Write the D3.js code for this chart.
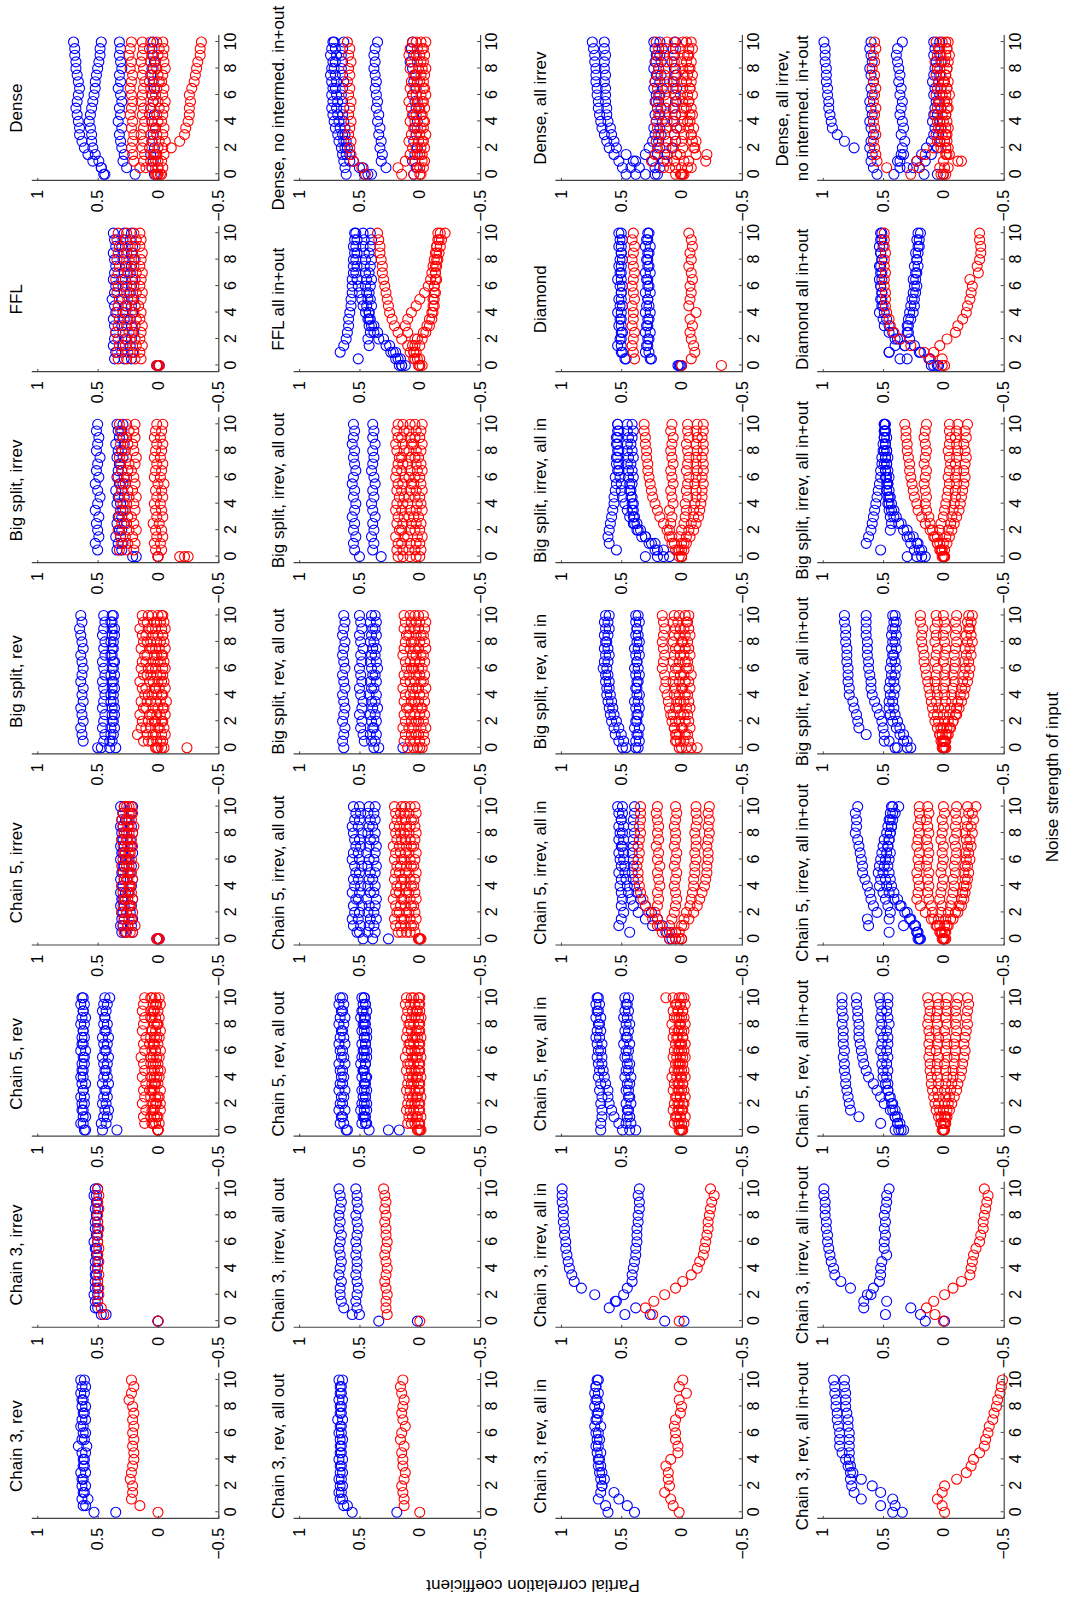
<!DOCTYPE html>
<html>
<head>
<meta charset="utf-8">
<script src="https://cdn.jsdelivr.net/npm/d3@7"></script>
<style>
  html, body { margin: 0; padding: 0; background: #fff; }
  svg { display: block; font-family: "Liberation Sans", Arial, Helvetica, sans-serif; }
</style>
</head>
<body>
<svg id="fig" width="1066" height="1603"></svg>
<script>
// Noise strength of the input (shared x values of every series)
const noise = [0,0.5,1,1.5,2,2.5,3,3.5,4,4.5,5,5.5,6,6.5,7,7.5,8,8.5,9,9.5,10];
const noiseTicks = [0,2,4,6,8,10];
const corrTicks = [-0.5,0,0.5,1];

// ---- Row 1: plain networks ----
const c3r_b1 = [.53,.60,.63,.62,.63,.62,.64,.62,.61,.63,.66,.63,.62,.64,.63,.62,.63,.62,.64,.63,.64];
const c3r_b2 = [.35,.62,.58,.61,.60,.63,.60,.61,.62,.60,.59,.61,.60,.62,.60,.61,.60,.63,.61,.60,.61];
const c3r_r1 = [.00,.15,.22,.21,.21,.23,.22,.21,.20,.20,.21,.20,.21,.20,.21,.20,.21,.24,.22,.20,.22];

const c3i_b1 = [.00,.43,.50,.52,.53,.50,.52,.51,.52,.50,.51,.52,.50,.51,.52,.50,.51,.52,.50,.53,.52];
const c3i_b2 = [.00,.47,.52,.50,.50,.52,.50,.52,.50,.52,.50,.51,.53,.50,.50,.52,.51,.50,.51,.51,.50];
const c3i_r1 = [.00,.45,.47,.50,.49,.49,.50,.49,.50,.49,.50,.49,.50,.50,.49,.50,.50,.49,.50,.49,.50];

const c5r_b1 = [.61,.64,.62,.63,.61,.64,.62,.63,.64,.62,.63,.61,.64,.62,.63,.62,.64,.63,.62,.64,.63];
const c5r_b2 = [.60,.62,.60,.62,.63,.61,.62,.60,.62,.63,.61,.62,.60,.63,.61,.62,.61,.60,.62,.61,.62];
const c5r_b3 = [.46,.47,.45,.44,.46,.45,.44,.46,.45,.44,.45,.46,.44,.45,.46,.44,.45,.44,.46,.45,.44];
const c5r_b4 = [.34,.43,.42,.41,.43,.42,.43,.41,.42,.43,.42,.41,.43,.42,.41,.43,.42,.44,.43,.42,.40];
const c5r_r1 = [.00,.11,.12,.10,.13,.11,.12,.10,.13,.11,.12,.14,.11,.12,.10,.13,.12,.11,.13,.12,.11];
const c5r_r2 = [.00,.04,.06,.05,.04,.06,.05,.03,.06,.05,.04,.06,.05,.04,.06,.05,.03,.05,.06,.04,.05];
const c5r_r3 = [.00,.02,.01,.03,.02,.00,.03,.02,.01,.03,.02,.01,.02,.03,.01,.02,.00,.02,.03,.01,.02];
const c5r_r4 = [.00,-.01,.00,-.02,.01,-.01,-.02,.00,-.01,-.02,.00,-.01,-.02,.00,-.01,-.02,.00,-.01,.00,-.02,-.01];
const c5r_r5 = [.00,.05,.03,.04,-.02,.02,.07,.05,.03,.00,.06,.04,.02,.07,.03,.05,.01,.06,.04,.02,.06];

const c5i_b1 = [.00,.27,.29,.28,.30,.28,.29,.27,.30,.28,.29,.28,.27,.29,.28,.30,.28,.29,.27,.29,.28];
const c5i_b2 = [-.01,.21,.22,.21,.23,.22,.21,.24,.22,.21,.23,.22,.24,.21,.22,.23,.21,.22,.24,.22,.21];
const c5i_b3 = [.01,.30,.31,.30,.29,.31,.30,.31,.29,.31,.30,.29,.31,.30,.31,.29,.30,.31,.30,.29,.31];
const c5i_r1 = [.00,.23,.25,.24,.26,.23,.25,.24,.23,.25,.24,.26,.25,.24,.23,.25,.26,.24,.25,.23,.24];
const c5i_r2 = [.00,.28,.29,.28,.30,.29,.28,.29,.30,.28,.29,.30,.29,.28,.29,.30,.28,.29,.30,.29,.28];
const c5i_r3 = [.01,.21,.19,.22,.21,.23,.21,.22,.23,.21,.22,.20,.22,.23,.21,.22,.21,.20,.22,.21,.22];
const c5i_r4 = [-.01,.26,.25,.22,.26,.24,.27,.25,.24,.26,.25,.24,.26,.27,.25,.26,.24,.25,.26,.24,.26];

const bsr_b1 = [.50,.62,.63,.64,.62,.63,.64,.62,.63,.62,.64,.63,.62,.63,.64,.62,.63,.64,.65,.63,.64];
const bsr_b2 = [.47,.45,.44,.46,.45,.44,.46,.45,.44,.45,.46,.44,.45,.46,.44,.45,.44,.46,.45,.44,.45];
const bsr_b3 = [.40,.38,.37,.39,.38,.36,.38,.37,.39,.38,.37,.36,.38,.37,.39,.38,.37,.38,.36,.38,.37];
const bsr_b4 = [.35,.40,.39,.36,.37,.38,.36,.39,.37,.36,.38,.39,.37,.36,.38,.37,.39,.36,.38,.39,.38];
const bsr_r1 = [.00,.12,.17,.14,.13,.15,.12,.14,.11,.13,.15,.12,.14,.13,.11,.14,.12,.13,.15,.12,.13];
const bsr_r2 = [.02,.08,.09,.10,.08,.07,.10,.09,.08,.10,.07,.09,.08,.10,.09,.07,.09,.10,.08,.09,.08];
const bsr_r3 = [-.03,.05,.04,.06,.03,.05,.04,.06,.05,.03,.04,.06,.05,.04,.03,.05,.06,.04,.05,.03,.05];
const bsr_r4 = [.01,.01,.02,.00,.02,.01,.00,.02,.01,.02,.00,.01,.02,.00,.01,.02,.01,.00,.02,.01,.00];
const bsr_r5 = [-.24,-.02,-.03,-.01,-.03,-.02,-.04,-.02,-.03,-.01,-.03,-.02,-.04,-.02,-.03,-.01,-.02,-.04,-.03,-.02,-.03];
const bsr_r6 = [-.05,-.04,-.06,-.05,-.04,-.06,-.05,-.07,-.04,-.06,-.05,-.04,-.06,-.05,-.04,-.06,-.05,-.04,-.06,-.05,-.04];

const bsi_b1 = [.21,.50,.52,.49,.50,.51,.49,.52,.50,.48,.50,.52,.49,.51,.50,.48,.51,.50,.49,.51,.50];
const bsi_b2 = [.00,.34,.33,.35,.32,.34,.33,.31,.34,.33,.35,.32,.34,.33,.32,.34,.33,.35,.32,.33,.34];
const bsi_b3 = [.18,.30,.29,.31,.30,.28,.30,.29,.31,.28,.30,.29,.28,.30,.31,.29,.30,.28,.29,.30,.29];
const bsi_r1 = [.00,.32,.30,.31,.33,.30,.32,.31,.29,.32,.30,.31,.33,.30,.31,.32,.30,.31,.29,.31,.32];
const bsi_r2 = [-.18,.26,.25,.27,.24,.26,.25,.27,.26,.24,.25,.27,.26,.25,.24,.26,.27,.25,.26,.24,.26];
const bsi_r3 = [-.22,.20,.19,.21,.18,.20,.22,.19,.20,.18,.21,.19,.20,.22,.19,.18,.20,.21,.19,.20,.19];
const bsi_r4 = [-.25,.02,.03,.01,.02,.04,.01,.02,.03,.01,.02,.00,.03,.02,.01,.03,.02,.01,.03,.02,.01];
const bsi_r5 = [.00,-.03,-.02,-.04,-.03,-.01,-.04,-.03,-.02,-.04,-.03,-.05,-.02,-.03,-.04,-.02,-.03,-.04,-.02,-.03,-.04];

const ffl_b1 = [.00,.36,.35,.37,.36,.35,.36,.37,.35,.36,.38,.36,.35,.37,.36,.35,.36,.37,.35,.36,.37];
const ffl_b2 = [.01,.28,.30,.29,.27,.29,.30,.28,.29,.27,.30,.28,.29,.30,.28,.27,.29,.28,.30,.29,.28];
const ffl_b3 = [-.01,.22,.21,.23,.22,.20,.22,.23,.21,.22,.20,.23,.22,.21,.23,.22,.20,.22,.21,.23,.22];
const ffl_r1 = [.00,.33,.34,.32,.33,.35,.33,.32,.34,.33,.32,.34,.33,.35,.33,.32,.34,.33,.32,.34,.33];
const ffl_r2 = [.00,.26,.25,.27,.26,.24,.26,.25,.27,.26,.25,.24,.26,.27,.25,.26,.24,.26,.25,.27,.26];
const ffl_r3 = [.01,.19,.20,.18,.19,.21,.19,.18,.20,.19,.21,.18,.20,.19,.18,.20,.19,.21,.19,.18,.20];
const ffl_r4 = [-.01,.14,.15,.13,.15,.14,.13,.15,.14,.16,.14,.13,.15,.14,.13,.15,.14,.13,.15,.14,.15];

const dn_b1 = [.45,.47,.54,.58,.61,.63,.65,.65,.66,.67,.68,.67,.66,.65,.66,.67,.68,.68,.69,.69,.70];
const dn_b2 = [.44,.47,.49,.52,.54,.55,.55,.56,.57,.56,.55,.54,.53,.52,.52,.51,.50,.49,.48,.48,.47];
const dn_b3 = [.19,.26,.29,.28,.30,.31,.32,.30,.33,.31,.32,.30,.31,.33,.31,.32,.30,.31,.32,.31,.32];
const dn_b4 = [.03,.05,.04,.06,.03,.05,.04,.02,.05,.03,.06,.04,.05,.03,.04,.06,.05,.03,.04,.05,.04];
const dn_r1 = [.02,.15,.20,.21,.22,.21,.20,.22,.21,.23,.22,.21,.22,.23,.22,.21,.23,.22,.24,.23,.22];
const dn_r2 = [.00,.10,.12,.11,.13,.12,.14,.12,.11,.13,.12,.14,.13,.12,.11,.13,.12,.14,.13,.12,.13];
const dn_r3 = [-.02,.05,.06,.04,.07,.05,.06,.04,.05,.07,.06,.04,.05,.06,.07,.05,.04,.06,.05,.07,.06];
const dn_r4 = [.01,.00,.02,.01,.00,-.01,.01,.02,.00,.01,-.01,.00,.02,.01,-.01,.00,.01,.02,.00,-.01,.01];
const dn_r5 = [-.03,-.04,-.03,-.05,-.04,-.06,-.04,-.05,-.03,-.04,-.05,-.06,-.04,-.05,-.03,-.04,-.06,-.05,-.04,-.05,-.04];
const dn_r6 = [.00,.00,.00,.02,-.11,-.18,-.22,-.23,-.25,-.26,-.26,-.27,-.26,-.28,-.30,-.31,-.32,-.33,-.35,-.35,-.36];

// ---- Row 2: all outputs (or all in+out) ----
const c3ro_b1 = [.56,.63,.66,.67,.66,.67,.66,.65,.67,.66,.65,.66,.67,.65,.68,.66,.65,.67,.66,.65,.67];
const c3ro_b2 = [.19,.60,.64,.65,.64,.65,.64,.66,.64,.65,.66,.64,.65,.66,.64,.65,.66,.64,.65,.66,.64];
const c3ro_r1 = [.00,.13,.13,.14,.15,.13,.12,.14,.14,.15,.13,.16,.15,.12,.14,.15,.14,.13,.15,.16,.14];

const c3io_b1 = [.34,.56,.63,.65,.66,.66,.65,.67,.66,.65,.66,.67,.66,.65,.67,.66,.67,.66,.65,.66,.67];
const c3io_b2 = [.02,.50,.52,.53,.52,.51,.52,.53,.52,.52,.53,.52,.53,.52,.51,.52,.53,.51,.52,.52,.53];
const c3io_r1 = [.00,.27,.28,.28,.27,.28,.29,.28,.27,.28,.29,.28,.27,.28,.28,.29,.28,.29,.28,.29,.30];

const c5ro_b1 = [.61,.66,.65,.67,.66,.65,.67,.66,.65,.66,.67,.65,.66,.67,.66,.65,.67,.66,.65,.67,.66];
const c5ro_b2 = [.60,.63,.64,.62,.64,.63,.62,.64,.63,.64,.62,.63,.64,.62,.63,.64,.63,.62,.64,.63,.64];
const c5ro_b3 = [.42,.48,.47,.49,.48,.47,.48,.46,.48,.47,.49,.48,.47,.48,.46,.48,.47,.49,.48,.47,.48];
const c5ro_b4 = [.26,.44,.45,.46,.44,.45,.46,.45,.44,.46,.45,.44,.46,.45,.44,.46,.45,.46,.44,.45,.46];
const c5ro_b5 = [.17,.45,.46,.44,.46,.45,.44,.46,.45,.47,.45,.46,.44,.45,.46,.44,.46,.45,.47,.45,.46];
const c5ro_r1 = [.00,.10,.09,.11,.10,.09,.11,.10,.09,.11,.10,.12,.10,.09,.11,.10,.09,.11,.10,.12,.11];
const c5ro_r2 = [.01,.07,.06,.08,.07,.06,.08,.07,.06,.07,.08,.06,.07,.08,.06,.07,.08,.07,.06,.08,.07];
const c5ro_r3 = [-.01,.04,.03,.05,.04,.03,.04,.05,.03,.04,.05,.03,.04,.05,.04,.03,.05,.04,.03,.04,.05];
const c5ro_r4 = [.00,.01,.02,.00,.01,.02,.00,.01,.02,.01,.00,.02,.01,.00,.02,.01,.00,.01,.02,.00,.01];
const c5ro_r5 = [.02,.00,-.01,.01,.00,-.01,.01,.00,-.01,.00,.01,-.01,.00,.01,-.01,.00,.01,-.01,.00,.01,.00];

const c5io_b1 = [.47,.52,.55,.56,.54,.55,.53,.56,.54,.55,.53,.54,.56,.55,.53,.54,.55,.56,.54,.53,.55];
const c5io_b2 = [.39,.50,.49,.51,.50,.48,.51,.50,.49,.51,.50,.48,.50,.51,.49,.50,.48,.51,.50,.49,.50];
const c5io_b3 = [.26,.43,.42,.41,.43,.42,.44,.41,.43,.42,.41,.43,.42,.44,.42,.41,.43,.42,.41,.43,.42];
const c5io_b4 = [.00,.37,.38,.36,.38,.37,.36,.38,.37,.39,.37,.36,.38,.37,.36,.38,.37,.39,.37,.38,.37];
const c5io_r1 = [.00,.18,.20,.21,.19,.20,.22,.20,.19,.21,.20,.19,.21,.20,.22,.19,.20,.21,.19,.20,.21];
const c5io_r2 = [.01,.15,.16,.15,.17,.16,.15,.17,.16,.15,.17,.16,.15,.16,.17,.15,.16,.17,.15,.16,.15];
const c5io_r3 = [.00,.11,.12,.13,.11,.12,.13,.11,.12,.13,.12,.11,.13,.12,.11,.12,.13,.11,.12,.13,.12];
const c5io_r4 = [-.01,.08,.07,.08,.09,.07,.08,.09,.07,.08,.09,.07,.08,.09,.07,.08,.09,.08,.07,.09,.08];
const c5io_r5 = [.01,.04,.05,.03,.04,.05,.03,.04,.05,.04,.03,.05,.04,.03,.05,.04,.03,.04,.05,.03,.04];

const bsro_b1 = [.63,.64,.63,.62,.64,.63,.62,.63,.64,.62,.63,.64,.62,.63,.64,.63,.62,.64,.63,.62,.63];
const bsro_b2 = [.14,.46,.47,.49,.48,.50,.48,.47,.49,.50,.48,.49,.50,.48,.49,.47,.49,.50,.48,.49,.50];
const bsro_b3 = [.38,.40,.41,.39,.40,.41,.39,.40,.42,.40,.41,.39,.40,.41,.40,.39,.41,.40,.39,.41,.40];
const bsro_b4 = [.34,.37,.36,.38,.36,.37,.35,.37,.36,.38,.36,.37,.35,.36,.37,.36,.38,.36,.37,.36,.37];
const bsro_r1 = [.10,.13,.12,.14,.12,.13,.11,.13,.12,.14,.12,.13,.11,.12,.14,.13,.12,.11,.13,.12,.13];
const bsro_r2 = [.05,.08,.07,.09,.07,.08,.09,.07,.08,.06,.08,.09,.07,.08,.06,.08,.07,.09,.08,.07,.08];
const bsro_r3 = [.02,.04,.03,.05,.03,.04,.02,.04,.05,.03,.04,.03,.05,.04,.03,.04,.05,.03,.04,.03,.04];
const bsro_r4 = [.00,.00,.01,-.01,.01,.00,-.01,.01,.00,.01,-.01,.00,.01,.00,-.01,.01,.00,-.01,.01,.00,.01];
const bsro_r5 = [-.02,-.04,-.03,-.05,-.03,-.04,-.02,-.04,-.03,-.05,-.03,-.04,-.02,-.04,-.03,-.05,-.04,-.03,-.04,-.05,-.03];

const bsio_b1 = [.50,.54,.55,.53,.55,.54,.56,.54,.53,.55,.54,.56,.55,.53,.54,.55,.54,.56,.55,.54,.55];
const bsio_b2 = [.32,.39,.38,.40,.38,.39,.37,.39,.40,.38,.39,.37,.38,.40,.39,.38,.39,.37,.39,.38,.39];
const bsio_r1 = [.18,.19,.18,.20,.17,.19,.18,.20,.19,.17,.19,.18,.20,.19,.18,.17,.19,.20,.18,.19,.18];
const bsio_r2 = [.14,.14,.15,.13,.15,.14,.13,.15,.14,.13,.15,.14,.13,.15,.14,.15,.13,.14,.15,.13,.14];
const bsio_r3 = [.08,.09,.08,.10,.08,.07,.09,.08,.10,.09,.08,.07,.09,.08,.10,.08,.09,.07,.08,.09,.08];
const bsio_r4 = [.03,.04,.03,.02,.04,.03,.05,.03,.02,.04,.03,.05,.04,.02,.03,.04,.03,.05,.04,.03,.04];
const bsio_r5 = [.00,-.01,.00,-.02,.00,-.01,.01,-.02,-.01,.00,-.02,-.01,.00,-.02,-.01,.01,-.01,-.02,.00,-.01,-.02];

const fflio_b1 = [.15,.51,.66,.63,.61,.60,.59,.59,.58,.57,.57,.56,.56,.56,.55,.55,.55,.54,.55,.54,.54];
const fflio_b2 = [.17,.20,.24,.42,.43,.41,.42,.43,.42,.44,.43,.44,.45,.44,.45,.46,.45,.46,.47,.46,.47];
const fflio_b3 = [.15,.18,.22,.28,.34,.38,.40,.41,.42,.40,.41,.42,.41,.40,.42,.41,.40,.42,.41,.40,.41];
const fflio_b4 = [.12,.16,.20,.25,.30,.35,.38,.42,.45,.47,.48,.50,.51,.52,.53,.52,.53,.52,.53,.52,.53];
const fflio_r1 = [.00,.05,.08,.10,.15,.18,.21,.23,.25,.26,.27,.28,.29,.30,.31,.31,.32,.33,.33,.34,.35];
const fflio_r2 = [-.02,.00,.05,.04,.02,-.03,-.06,-.08,-.10,-.11,-.11,-.12,-.12,-.13,-.13,-.13,-.14,-.14,-.14,-.15,-.15];
const fflio_r3 = [.00,.02,.05,.06,.04,.10,.12,.10,.07,.03,.00,-.04,-.07,-.09,-.10,-.11,-.12,-.13,-.14,-.16,-.17];
const fflio_r4 = [.01,.04,.03,.00,-.02,-.05,-.08,-.10,-.11,-.12,-.12,-.13,-.12,-.14,-.13,-.14,-.15,-.16,-.17,-.18,-.21];

const dnio_b1 = [.61,.62,.63,.64,.65,.67,.68,.70,.71,.72,.73,.72,.73,.72,.73,.74,.73,.72,.74,.73,.72];
const dnio_b2 = [.46,.50,.58,.61,.62,.63,.64,.66,.67,.68,.69,.68,.69,.70,.69,.70,.71,.70,.69,.70,.71];
const dnio_b3 = [.43,.47,.55,.58,.60,.61,.62,.62,.63,.64,.63,.64,.65,.64,.63,.64,.65,.64,.65,.64,.63];
const dnio_b4 = [.40,.28,.32,.31,.33,.32,.34,.33,.35,.34,.36,.35,.36,.37,.36,.37,.38,.37,.38,.37,.35];
const dnio_b5 = [.05,.03,.06,.04,.02,.05,.03,.04,.02,.05,.03,.04,.06,.03,.05,.04,.06,.08,.05,.07,.06];
const dnio_r1 = [.45,.48,.55,.57,.58,.57,.59,.58,.57,.59,.58,.57,.59,.58,.60,.58,.59,.57,.59,.58,.60];
const dnio_r2 = [.15,.18,.12,.08,.06,.09,.07,.05,.08,.06,.07,.09,.06,.08,.07,.05,.08,.07,.09,.08,.06];
const dnio_r3 = [.05,.02,.04,.02,.03,.01,.03,.02,.04,.03,.01,.02,.03,.04,.02,.03,.01,.02,.03,.02,.03];
const dnio_r4 = [-.01,.00,-.02,.00,-.01,-.02,.00,-.01,-.03,-.01,.00,-.02,-.01,-.03,.00,-.01,-.02,-.01,.00,-.02,-.01];
const dnio_r5 = [.00,-.03,-.04,-.02,-.04,-.03,-.05,-.03,-.04,-.02,-.04,-.03,-.05,-.04,-.03,-.04,-.05,-.03,-.04,-.03,-.05];

// ---- Row 3: all inputs ----
const c3ra_b1 = [.61,.63,.69,.67,.66,.67,.68,.69,.69,.70,.71,.70,.71,.72,.71,.70,.72,.71,.72,.71,.70];
const c3ra_b2 = [.39,.45,.52,.56,.66,.64,.66,.67,.68,.67,.69,.68,.69,.67,.70,.69,.68,.70,.69,.71,.69];
const c3ra_r1 = [.02,.07,.09,.14,.10,.11,.11,.13,.09,.03,.03,.05,.05,.06,.05,.01,.00,.02,-.04,.02,-.01];

const c3ia_b1 = [.14,.47,.60,.55,.72,.83,.89,.91,.93,.94,.95,.96,.96,.97,.97,.98,.98,.98,.99,.99,.99];
const c3ia_b2 = [-.02,.26,.38,.54,.48,.45,.41,.41,.40,.39,.38,.38,.37,.37,.37,.36,.36,.35,.35,.36,.35];
const c3ia_r1 = [.02,.24,.30,.23,.14,.05,-.01,-.08,-.13,-.15,-.18,-.19,-.20,-.21,-.22,-.22,-.23,-.24,-.25,-.27,-.24];

const c5ra_b1 = [.67,.67,.66,.66,.67,.66,.68,.67,.69,.68,.69,.70,.69,.70,.71,.70,.69,.71,.70,.71,.70];
const c5ra_b2 = [.49,.52,.56,.58,.60,.61,.61,.63,.64,.65,.66,.66,.67,.66,.68,.67,.68,.67,.69,.68,.69];
const c5ra_b3 = [.43,.46,.45,.45,.46,.44,.46,.45,.47,.46,.45,.47,.46,.48,.46,.47,.46,.48,.47,.46,.47];
const c5ra_b4 = [.38,.42,.43,.44,.42,.43,.44,.43,.42,.44,.43,.45,.44,.43,.45,.44,.43,.45,.44,.45,.44];
const c5ra_r1 = [.02,.06,.05,.07,.06,.05,.07,.06,.08,.06,.05,.07,.06,.05,.07,.06,.08,.06,.07,.05,.07];
const c5ra_r2 = [.00,.03,.04,.02,.03,.04,.02,.03,.04,.03,.02,.04,.03,.02,.04,.03,.02,.04,.03,.04,.02];
const c5ra_r3 = [.01,.00,.01,.00,-.01,.01,.00,-.01,.01,.00,.01,-.01,.00,.01,-.01,.00,.01,.00,-.01,.01,.00];
const c5ra_r4 = [-.01,-.02,-.03,-.01,-.02,-.03,-.02,-.01,-.03,-.02,-.01,-.03,-.02,-.03,-.01,-.02,-.03,-.02,-.01,-.03,-.02];
const c5ra_r5 = [.00,.02,.01,.03,.02,.01,.03,.02,.00,.02,.03,.01,.02,.00,.03,.02,.01,.02,.03,.01,.13];

const c5ia_b1 = [.10,.43,.52,.50,.48,.50,.49,.50,.51,.50,.52,.50,.51,.52,.50,.52,.51,.52,.50,.52,.53];
const c5ia_b2 = [.08,.13,.24,.30,.36,.40,.42,.44,.45,.46,.47,.47,.48,.48,.49,.48,.49,.48,.50,.49,.49];
const c5ia_b3 = [.05,.10,.16,.20,.25,.30,.34,.37,.39,.40,.41,.40,.40,.41,.40,.40,.39,.40,.40,.39,.39];
const c5ia_r1 = [.10,.16,.20,.24,.27,.30,.32,.34,.35,.36,.36,.37,.36,.35,.36,.35,.34,.35,.34,.34,.34];
const c5ia_r2 = [.05,.12,.18,.20,.22,.20,.19,.20,.18,.19,.20,.18,.20,.19,.21,.19,.20,.19,.20,.21,.20];
const c5ia_r3 = [.02,.08,.10,.08,.06,.05,.04,.05,.06,.05,.04,.06,.05,.04,.06,.05,.05,.06,.05,.04,.05];
const c5ia_r4 = [.00,.05,.00,-.02,-.04,-.07,-.08,-.09,-.10,-.10,-.11,-.11,-.12,-.11,-.12,-.12,-.11,-.12,-.13,-.12,-.12];
const c5ia_r5 = [.00,.02,-.02,-.06,-.10,-.13,-.15,-.17,-.19,-.20,-.21,-.21,-.22,-.22,-.21,-.22,-.23,-.22,-.23,-.22,-.23];

const bsra_b1 = [.49,.52,.55,.56,.58,.59,.60,.61,.62,.62,.63,.63,.65,.64,.63,.64,.63,.64,.63,.64,.63];
const bsra_b2 = [.46,.48,.50,.52,.54,.56,.57,.58,.59,.60,.60,.61,.62,.61,.60,.61,.62,.61,.60,.61,.60];
const bsra_b3 = [.38,.38,.37,.39,.38,.37,.38,.39,.37,.38,.37,.38,.39,.37,.38,.39,.37,.38,.37,.38,.38];
const bsra_b4 = [.36,.35,.36,.35,.37,.36,.35,.36,.35,.37,.36,.35,.36,.37,.35,.36,.35,.36,.37,.35,.36];
const bsra_r1 = [.02,.04,.05,.06,.08,.09,.10,.11,.12,.14,.13,.14,.16,.15,.14,.15,.16,.15,.14,.15,.16];
const bsra_r2 = [-.13,.05,.04,.06,.05,.07,.05,.04,.06,.05,.07,.06,.05,.07,.06,.05,.07,.06,.05,.07,.06];
const bsra_r3 = [-.08,.01,.02,.00,.02,.01,.03,.01,.02,.00,.02,.01,.03,.02,.01,.02,.00,.02,.01,.03,.02];
const bsra_r4 = [.00,-.02,-.03,-.01,-.03,-.02,-.04,-.02,-.03,-.01,-.03,-.02,-.04,-.03,-.02,-.03,-.01,-.03,-.02,-.04,-.03];
const bsra_r5 = [-.04,-.06,-.05,-.07,-.06,-.05,-.07,-.06,-.05,-.07,-.06,-.08,-.06,-.05,-.07,-.06,-.05,-.07,-.06,-.05,-.06];

const bsia_b1 = [.30,.54,.60,.61,.60,.59,.58,.57,.56,.56,.55,.54,.55,.53,.54,.54,.53,.54,.53,.52,.53];
const bsia_b2 = [.20,.22,.25,.30,.36,.40,.43,.45,.47,.49,.50,.50,.51,.52,.52,.53,.52,.53,.54,.53,.53];
const bsia_b3 = [.15,.20,.27,.33,.37,.39,.40,.41,.40,.41,.42,.41,.40,.41,.42,.40,.41,.42,.41,.40,.41];
const bsia_b4 = [.10,.15,.22,.30,.34,.37,.39,.40,.41,.42,.43,.43,.44,.44,.45,.44,.45,.45,.44,.45,.45];
const bsia_r1 = [.02,.05,.08,.10,.12,.15,.18,.20,.22,.24,.25,.26,.27,.28,.28,.29,.29,.30,.30,.31,.31];
const bsia_r2 = [.00,.03,.06,.08,.10,.09,.08,.10,.07,.08,.09,.07,.08,.09,.07,.08,.09,.08,.07,.09,.08];
const bsia_r3 = [.00,.02,.00,.02,.00,-.02,-.03,-.04,-.03,-.05,-.04,-.05,-.06,-.04,-.05,-.06,-.05,-.04,-.06,-.05,-.05];
const bsia_r4 = [.00,.00,-.02,-.04,-.06,-.08,-.10,-.10,-.11,-.12,-.12,-.11,-.12,-.13,-.12,-.12,-.13,-.12,-.13,-.12,-.13];
const bsia_r5 = [.00,-.02,-.04,-.07,-.10,-.12,-.14,-.15,-.16,-.17,-.17,-.18,-.17,-.18,-.18,-.17,-.18,-.18,-.17,-.18,-.18];

const dia_b1 = [.03,.46,.50,.53,.51,.50,.52,.50,.53,.51,.52,.50,.51,.53,.50,.52,.51,.50,.52,.51,.52];
const dia_b2 = [.02,.47,.49,.50,.50,.49,.50,.51,.50,.49,.50,.50,.49,.50,.51,.50,.49,.50,.50,.49,.50];
const dia_b3 = [.01,.25,.30,.29,.28,.30,.29,.28,.30,.29,.28,.30,.28,.29,.30,.28,.29,.28,.30,.29,.28];
const dia_b4 = [.00,.26,.27,.28,.27,.26,.28,.27,.26,.27,.28,.26,.27,.28,.26,.27,.28,.27,.26,.28,.27];
const dia_r1 = [.00,.39,.40,.41,.40,.39,.41,.40,.40,.41,.39,.40,.41,.40,.39,.40,.41,.40,.39,.41,.40];
const dia_r2 = [-.33,-.08,-.11,-.10,-.08,-.07,-.09,-.07,-.12,-.06,-.07,-.08,-.07,-.09,-.08,-.06,-.08,-.07,-.09,-.08,-.06];

const dai_b1 = [.46,.49,.52,.56,.60,.62,.64,.66,.67,.68,.69,.69,.70,.70,.71,.71,.71,.72,.72,.73,.74];
const dai_b2 = [.38,.42,.40,.46,.54,.56,.58,.59,.61,.62,.62,.63,.63,.63,.64,.63,.64,.64,.63,.64,.64];
const dai_b3 = [.30,.35,.38,.30,.27,.24,.22,.23,.21,.22,.20,.22,.21,.23,.22,.21,.23,.22,.21,.22,.23];
const dai_b4 = [.20,.22,.24,.20,.18,.19,.17,.18,.16,.18,.17,.19,.18,.16,.18,.17,.19,.17,.18,.16,.18];
const dai_b5 = [.22,.18,.15,.12,.08,.05,.06,.04,.06,.05,.07,.05,.06,.04,.07,.05,.06,.08,.06,.07,.05];
const dai_r1 = [.05,.15,.25,.22,.20,.21,.19,.20,.21,.19,.20,.21,.19,.20,.22,.20,.19,.21,.20,.19,.21];
const dai_r2 = [.00,.10,.12,.14,.13,.12,.14,.13,.12,.14,.13,.12,.14,.13,.12,.14,.13,.12,.14,.13,.12];
const dai_r3 = [-.01,.05,.06,.04,.07,.05,.06,.04,.07,.05,.06,.04,.05,.07,.06,.04,.05,.06,.07,.05,.06];
const dai_r4 = [.00,.00,-.02,.01,-.01,.00,-.02,.01,-.01,.00,-.02,-.01,.01,-.01,.00,-.02,-.01,.00,-.02,.01,-.01];
const dai_r5 = [-.02,-.08,-.20,-.21,-.11,-.09,-.08,-.10,-.07,-.09,-.08,-.06,-.09,-.07,-.08,-.09,-.07,-.08,-.06,-.09,-.08];
const dai_r6 = [.01,-.05,-.06,-.12,-.10,-.12,-.08,-.06,-.05,-.07,-.04,-.06,-.05,-.07,-.04,-.05,-.06,-.04,-.05,-.06,-.04];

// ---- Row 4: all inputs and outputs ----
const c3rio_b1 = [.42,.52,.68,.74,.76,.77,.77,.79,.81,.84,.86,.86,.86,.87,.88,.88,.89,.89,.90,.90,.91];
const c3rio_b2 = [.34,.40,.42,.52,.59,.68,.75,.77,.78,.78,.78,.78,.78,.79,.79,.80,.81,.81,.81,.82,.82];
const c3rio_r1 = [-.01,.01,.05,.01,-.01,-.11,-.19,-.23,-.25,-.30,-.34,-.35,-.37,-.38,-.41,-.42,-.44,-.45,-.47,-.48,-.49];

const c3iio_b1 = [.15,.19,.66,.66,.63,.77,.85,.90,.91,.93,.94,.95,.96,.96,.97,.97,.98,.98,.98,.99,.99];
const c3iio_b2 = [-.01,.48,.27,.47,.60,.58,.53,.52,.52,.51,.47,.49,.49,.48,.49,.48,.49,.48,.47,.47,.45];
const c3iio_r1 = [.00,.07,.14,.08,-.01,-.08,-.15,-.22,-.23,-.24,-.25,-.27,-.30,-.31,-.33,-.33,-.34,-.35,-.36,-.37,-.34];

const c5rio_b1 = [.40,.52,.70,.77,.78,.79,.80,.81,.81,.82,.82,.83,.82,.83,.83,.83,.84,.83,.84,.84,.84];
const c5rio_b2 = [.35,.38,.40,.44,.49,.52,.55,.58,.62,.64,.66,.67,.68,.69,.70,.70,.70,.71,.71,.72,.72];
const c5rio_b3 = [.33,.36,.38,.40,.42,.44,.46,.48,.50,.50,.51,.50,.52,.51,.50,.52,.51,.52,.51,.52,.53];
const c5rio_b4 = [.37,.38,.40,.42,.43,.45,.46,.46,.47,.46,.47,.46,.47,.46,.46,.47,.45,.46,.47,.46,.46];
const c5rio_r1 = [.00,.02,.04,.06,.07,.08,.09,.10,.10,.11,.11,.12,.11,.12,.11,.12,.13,.12,.11,.12,.13];
const c5rio_r2 = [.01,.02,.02,.03,.04,.04,.05,.04,.05,.06,.05,.04,.06,.05,.04,.06,.05,.06,.05,.04,.05];
const c5rio_r3 = [-.01,.00,-.01,.00,-.01,-.02,-.01,-.02,-.03,-.02,-.01,-.03,-.02,-.03,-.02,-.01,-.03,-.02,-.03,-.02,-.03];
const c5rio_r4 = [.00,-.01,-.02,-.03,-.04,-.05,-.06,-.07,-.08,-.08,-.09,-.09,-.10,-.09,-.10,-.11,-.10,-.11,-.10,-.11,-.12];
const c5rio_r5 = [.00,-.02,-.03,-.05,-.07,-.09,-.11,-.12,-.14,-.15,-.16,-.17,-.18,-.17,-.18,-.19,-.20,-.19,-.20,-.21,-.20];

const c5iio_b1 = [.20,.45,.62,.63,.55,.58,.60,.61,.63,.65,.67,.67,.68,.69,.70,.71,.73,.72,.72,.73,.71];
const c5iio_b2 = [.21,.22,.33,.45,.44,.46,.48,.50,.53,.52,.54,.53,.52,.51,.50,.49,.47,.46,.45,.44,.42];
const c5iio_b3 = [.20,.22,.23,.27,.30,.36,.41,.45,.47,.48,.50,.49,.48,.47,.46,.45,.44,.43,.42,.40,.37];
const c5iio_b4 = [.19,.21,.24,.28,.32,.35,.38,.41,.43,.44,.45,.46,.45,.44,.46,.45,.44,.43,.44,.42,.43];
const c5iio_r1 = [.00,.02,.05,.10,.15,.19,.22,.21,.20,.21,.22,.20,.21,.20,.22,.21,.20,.21,.19,.20,.20];
const c5iio_r2 = [.01,.03,.06,.08,.09,.10,.12,.13,.12,.13,.12,.14,.13,.12,.13,.14,.12,.13,.14,.12,.13];
const c5iio_r3 = [-.01,.02,.03,.04,.02,.01,.03,.02,.01,.00,.02,.01,.00,.01,.00,.02,.01,.00,.01,-.01,.00];
const c5iio_r4 = [.00,.01,-.01,-.02,-.04,-.06,-.07,-.08,-.09,-.08,-.10,-.09,-.10,-.11,-.10,-.09,-.11,-.10,-.11,-.10,-.11];
const c5iio_r5 = [-.02,-.01,-.03,-.06,-.10,-.13,-.15,-.16,-.17,-.18,-.17,-.18,-.19,-.18,-.20,-.19,-.18,-.20,-.19,-.21,-.20];
const c5iio_r6 = [.00,-.02,-.04,-.08,-.12,-.15,-.17,-.18,-.19,-.20,-.21,-.20,-.22,-.21,-.23,-.22,-.24,-.23,-.25,-.24,-.27];

const bsrio_b1 = [.40,.45,.64,.70,.71,.72,.74,.75,.78,.78,.79,.79,.79,.80,.80,.80,.81,.81,.81,.82,.82];
const bsrio_b2 = [.38,.49,.49,.50,.51,.53,.55,.57,.59,.60,.60,.61,.62,.62,.63,.63,.63,.64,.64,.64,.64];
const bsrio_b3 = [.30,.33,.36,.39,.42,.44,.45,.45,.44,.45,.44,.43,.44,.43,.42,.43,.42,.43,.42,.41,.42];
const bsrio_b4 = [.27,.30,.33,.36,.38,.40,.41,.42,.41,.40,.41,.40,.39,.40,.41,.39,.40,.39,.40,.39,.40];
const bsrio_r1 = [.00,.01,.03,.05,.07,.08,.09,.10,.11,.12,.13,.14,.15,.16,.16,.17,.18,.18,.17,.19,.19];
const bsrio_r2 = [.01,.02,.03,.02,.04,.05,.04,.06,.05,.06,.07,.06,.05,.07,.06,.05,.07,.06,.07,.05,.06];
const bsrio_r3 = [-.01,.00,.01,.00,-.01,.00,-.01,-.02,-.01,.00,-.02,-.01,-.02,.00,-.01,-.02,-.01,.00,-.02,-.01,.00];
const bsrio_r4 = [.00,-.01,-.02,-.03,-.04,-.05,-.06,-.07,-.07,-.08,-.09,-.08,-.09,-.10,-.09,-.10,-.11,-.10,-.11,-.10,-.11];
const bsrio_r5 = [-.02,-.02,-.04,-.06,-.08,-.10,-.11,-.12,-.14,-.15,-.16,-.17,-.18,-.17,-.19,-.18,-.20,-.19,-.21,-.20,-.21];
const bsrio_r6 = [.00,-.01,-.03,-.05,-.08,-.11,-.13,-.15,-.17,-.18,-.20,-.21,-.22,-.21,-.23,-.22,-.24,-.23,-.22,-.23,-.24];

const bsiio_b1 = [.30,.52,.64,.62,.60,.59,.58,.57,.56,.55,.54,.53,.52,.52,.51,.51,.50,.50,.49,.49,.49];
const bsiio_b2 = [.22,.24,.27,.30,.33,.37,.41,.43,.45,.46,.47,.47,.48,.48,.49,.48,.49,.48,.49,.49,.49];
const bsiio_b3 = [.18,.20,.22,.28,.44,.43,.44,.45,.46,.45,.47,.46,.47,.48,.47,.48,.47,.48,.49,.48,.49];
const bsiio_b4 = [.15,.18,.21,.25,.30,.35,.39,.41,.43,.44,.45,.46,.45,.46,.47,.46,.47,.48,.47,.48,.48];
const bsiio_r1 = [.00,.02,.05,.08,.11,.15,.18,.21,.22,.24,.25,.26,.27,.28,.28,.29,.30,.30,.31,.31,.32];
const bsiio_r2 = [.01,.03,.05,.07,.09,.11,.12,.14,.15,.14,.15,.16,.15,.14,.16,.15,.14,.15,.16,.15,.14];
const bsiio_r3 = [-.01,.02,.03,.05,.03,.02,.00,-.01,-.02,-.03,-.04,-.05,-.04,-.05,-.06,-.05,-.04,-.05,-.06,-.05,-.05];
const bsiio_r4 = [.00,.01,.00,-.02,-.04,-.06,-.07,-.08,-.09,-.10,-.10,-.11,-.10,-.11,-.10,-.11,-.12,-.11,-.10,-.11,-.12];
const bsiio_r5 = [-.01,-.01,-.03,-.05,-.07,-.09,-.11,-.13,-.14,-.15,-.16,-.17,-.18,-.17,-.18,-.19,-.18,-.17,-.19,-.18,-.20];

const dio_b1 = [.05,.36,.45,.40,.40,.45,.49,.50,.53,.51,.52,.51,.52,.53,.51,.52,.51,.52,.50,.51,.51];
const dio_b2 = [.10,.30,.45,.32,.36,.29,.29,.27,.25,.24,.24,.23,.22,.23,.22,.21,.22,.21,.20,.20,.19];
const dio_b3 = [.08,.11,.19,.32,.38,.42,.45,.47,.49,.50,.51,.51,.52,.51,.52,.53,.51,.52,.53,.52,.52];
const dio_b4 = [.04,.12,.20,.24,.28,.30,.30,.29,.28,.27,.26,.25,.24,.25,.23,.24,.22,.23,.21,.22,.21];
const dio_r1 = [.01,.11,.16,.27,.36,.41,.44,.45,.47,.48,.48,.48,.49,.49,.48,.49,.49,.48,.49,.49,.49];
const dio_r2 = [-.01,.01,.08,.03,-.03,-.10,-.12,-.16,-.19,-.20,-.22,-.23,-.24,-.22,-.29,-.28,-.30,-.31,-.31,-.30,-.30];

const daio_b1 = [.41,.36,.38,.35,.74,.82,.88,.92,.93,.94,.95,.95,.96,.96,.97,.97,.97,.98,.98,.98,.99];
const daio_b2 = [.55,.58,.60,.59,.61,.60,.58,.60,.61,.59,.60,.61,.59,.60,.58,.60,.61,.59,.60,.61,.60];
const daio_b3 = [.16,.30,.36,.33,.34,.32,.35,.33,.34,.36,.35,.34,.36,.35,.37,.36,.37,.38,.39,.38,.34];
const daio_b4 = [.05,.20,.22,.18,.14,.10,.08,.07,.09,.08,.07,.06,.08,.07,.09,.08,.07,.06,.08,.07,.08];
const daio_b5 = [.00,.25,.15,.10,.05,.03,.04,.02,.03,.05,.02,.04,.03,.02,.04,.03,.05,.02,.03,.04,.03];
const daio_r1 = [.27,.47,.55,.56,.57,.58,.56,.57,.58,.57,.56,.58,.57,.56,.58,.57,.59,.57,.58,.56,.57];
const daio_r2 = [.00,.20,.22,.15,.08,.05,.06,.04,.05,.07,.05,.04,.06,.05,.04,.06,.05,.07,.05,.04,.06];
const daio_r3 = [.02,.03,-.15,-.05,.02,.03,.01,.02,.03,.01,.02,.03,.01,.02,.00,.02,.03,.01,.02,.03,.01];
const daio_r4 = [-.02,-.04,-.12,-.03,-.02,-.01,-.03,-.02,.00,-.02,-.03,-.01,-.02,-.03,-.01,-.02,-.03,-.01,-.02,-.03,-.02];
const daio_r5 = [.00,-.01,.00,-.02,-.04,-.03,-.02,-.04,-.03,-.02,-.04,-.03,-.05,-.03,-.04,-.02,-.03,-.04,-.05,-.03,-.04];

// Panel titles and the series each panel shows (grid of 4 rows x 8 columns)
const panelRows = [
  [
    { title: ["Chain 3, rev"], blue: [c3r_b1, c3r_b2], red: [c3r_r1] },
    { title: ["Chain 3, irrev"], blue: [c3i_b1, c3i_b2], red: [c3i_r1] },
    { title: ["Chain 5, rev"], blue: [c5r_b1, c5r_b2, c5r_b3, c5r_b4], red: [c5r_r1, c5r_r2, c5r_r3, c5r_r4, c5r_r5] },
    { title: ["Chain 5, irrev"], blue: [c5i_b1, c5i_b2, c5i_b3], red: [c5i_r1, c5i_r2, c5i_r3, c5i_r4] },
    { title: ["Big split, rev"], blue: [bsr_b1, bsr_b2, bsr_b3, bsr_b4], red: [bsr_r1, bsr_r2, bsr_r3, bsr_r4, bsr_r5, bsr_r6] },
    { title: ["Big split, irrev"], blue: [bsi_b1, bsi_b2, bsi_b3], red: [bsi_r1, bsi_r2, bsi_r3, bsi_r4, bsi_r5] },
    { title: ["FFL"], blue: [ffl_b1, ffl_b2, ffl_b3], red: [ffl_r1, ffl_r2, ffl_r3, ffl_r4] },
    { title: ["Dense"], blue: [dn_b1, dn_b2, dn_b3, dn_b4], red: [dn_r1, dn_r2, dn_r3, dn_r4, dn_r5, dn_r6] }
  ],
  [
    { title: ["Chain 3, rev, all out"], blue: [c3ro_b1, c3ro_b2], red: [c3ro_r1] },
    { title: ["Chain 3, irrev, all out"], blue: [c3io_b1, c3io_b2], red: [c3io_r1] },
    { title: ["Chain 5, rev, all out"], blue: [c5ro_b1, c5ro_b2, c5ro_b3, c5ro_b4, c5ro_b5], red: [c5ro_r1, c5ro_r2, c5ro_r3, c5ro_r4, c5ro_r5] },
    { title: ["Chain 5, irrev, all out"], blue: [c5io_b1, c5io_b2, c5io_b3, c5io_b4], red: [c5io_r1, c5io_r2, c5io_r3, c5io_r4, c5io_r5] },
    { title: ["Big split, rev, all out"], blue: [bsro_b1, bsro_b2, bsro_b3, bsro_b4], red: [bsro_r1, bsro_r2, bsro_r3, bsro_r4, bsro_r5] },
    { title: ["Big split, irrev, all out"], blue: [bsio_b1, bsio_b2], red: [bsio_r1, bsio_r2, bsio_r3, bsio_r4, bsio_r5] },
    { title: ["FFL all in+out"], blue: [fflio_b1, fflio_b2, fflio_b3, fflio_b4], red: [fflio_r1, fflio_r2, fflio_r3, fflio_r4] },
    { title: ["Dense, no intermed. in+out"], blue: [dnio_b1, dnio_b2, dnio_b3, dnio_b4, dnio_b5], red: [dnio_r1, dnio_r2, dnio_r3, dnio_r4, dnio_r5] }
  ],
  [
    { title: ["Chain 3, rev, all in"], blue: [c3ra_b1, c3ra_b2], red: [c3ra_r1] },
    { title: ["Chain 3, irrev, all in"], blue: [c3ia_b1, c3ia_b2], red: [c3ia_r1] },
    { title: ["Chain 5, rev, all in"], blue: [c5ra_b1, c5ra_b2, c5ra_b3, c5ra_b4], red: [c5ra_r1, c5ra_r2, c5ra_r3, c5ra_r4, c5ra_r5] },
    { title: ["Chain 5, irrev, all in"], blue: [c5ia_b1, c5ia_b2, c5ia_b3], red: [c5ia_r1, c5ia_r2, c5ia_r3, c5ia_r4, c5ia_r5] },
    { title: ["Big split, rev, all in"], blue: [bsra_b1, bsra_b2, bsra_b3, bsra_b4], red: [bsra_r1, bsra_r2, bsra_r3, bsra_r4, bsra_r5] },
    { title: ["Big split, irrev, all in"], blue: [bsia_b1, bsia_b2, bsia_b3, bsia_b4], red: [bsia_r1, bsia_r2, bsia_r3, bsia_r4, bsia_r5] },
    { title: ["Diamond"], blue: [dia_b1, dia_b2, dia_b3, dia_b4], red: [dia_r1, dia_r2] },
    { title: ["Dense, all irrev"], blue: [dai_b1, dai_b2, dai_b3, dai_b4, dai_b5], red: [dai_r1, dai_r2, dai_r3, dai_r4, dai_r5, dai_r6] }
  ],
  [
    { title: ["Chain 3, rev, all in+out"], blue: [c3rio_b1, c3rio_b2], red: [c3rio_r1] },
    { title: ["Chain 3, irrev, all in+out"], blue: [c3iio_b1, c3iio_b2], red: [c3iio_r1] },
    { title: ["Chain 5, rev, all in+out"], blue: [c5rio_b1, c5rio_b2, c5rio_b3, c5rio_b4], red: [c5rio_r1, c5rio_r2, c5rio_r3, c5rio_r4, c5rio_r5] },
    { title: ["Chain 5, irrev, all in+out"], blue: [c5iio_b1, c5iio_b2, c5iio_b3, c5iio_b4], red: [c5iio_r1, c5iio_r2, c5iio_r3, c5iio_r4, c5iio_r5, c5iio_r6] },
    { title: ["Big split, rev, all in+out"], blue: [bsrio_b1, bsrio_b2, bsrio_b3, bsrio_b4], red: [bsrio_r1, bsrio_r2, bsrio_r3, bsrio_r4, bsrio_r5, bsrio_r6] },
    { title: ["Big split, irrev, all in+out"], blue: [bsiio_b1, bsiio_b2, bsiio_b3, bsiio_b4], red: [bsiio_r1, bsiio_r2, bsiio_r3, bsiio_r4, bsiio_r5] },
    { title: ["Diamond all in+out"], blue: [dio_b1, dio_b2, dio_b3, dio_b4], red: [dio_r1, dio_r2] },
    { title: ["Dense, all irrev,", "no intermed. in+out"], blue: [daio_b1, daio_b2, daio_b3, daio_b4, daio_b5], red: [daio_r1, daio_r2, daio_r3, daio_r4, daio_r5] }
  ]
];

// ---------------- drawing ----------------
// The figure is laid out landscape (1603 x 1066) and turned a quarter turn
// counter-clockwise onto the portrait page.
const PAGE_H = 1603;
const svg = d3.select("#fig");
svg.append("rect").attr("width", 1066).attr("height", 1603).attr("fill", "#fff");
const fig = svg.append("g").attr("transform", `translate(0,${PAGE_H}) rotate(-90)`);

const COL_LEFT = 84.1, COL_STEP = 191.14, PLOT_W = 145.5;
const ROW_TOP = 31.3, ROW_BOTTOM = 218.3, ROW_STEP = 261.8;
const BLUE = "#0000ff", RED = "#ff0000";
const AXIS_COLOR = "#444";
const fmtCorr = d => d < 0 ? "\u2212" + Math.abs(d) : String(d);

panelRows.forEach((row, r) => {
  row.forEach((p, c) => {
    const left = COL_LEFT + c * COL_STEP;
    const top = ROW_TOP + r * ROW_STEP, bottom = ROW_BOTTOM + r * ROW_STEP;
    const x = d3.scaleLinear().domain([-0.5, 10.5]).range([left, left + PLOT_W]);
    const y = d3.scaleLinear().domain([-0.5, 1.05]).range([bottom, top]);
    const g = fig.append("g").attr("class", "panel");

    const drawSeries = (list, color) => {
      list.forEach(vals => {
        const pts = vals.map((v, i) => ({ n: noise[i], v }));
        g.append("g").selectAll("circle").data(pts).join("circle")
          .attr("cx", d => x(d.n))
          .attr("cy", d => y(d.v))
          .attr("r", 5)
          .attr("fill", "none")
          .attr("stroke", color)
          .attr("stroke-width", 1.1);
      });
    };
    drawSeries(p.blue, BLUE);
    drawSeries(p.red, RED);

    // noise axis (bottom of the landscape panel)
    const gx = g.append("g").attr("transform", `translate(0,${bottom})`)
      .call(d3.axisBottom(x).tickValues(noiseTicks).tickSizeInner(-3).tickSizeOuter(0).tickPadding(6));
    // correlation axis (left of the landscape panel)
    const gy = g.append("g").attr("transform", `translate(${left},0)`)
      .call(d3.axisLeft(y).tickValues(corrTicks).tickFormat(fmtCorr).tickSizeInner(-3).tickSizeOuter(0).tickPadding(9));
    [gx, gy].forEach(a => {
      a.selectAll("path.domain").attr("stroke", AXIS_COLOR).attr("stroke-width", 1.2);
      a.selectAll(".tick line").attr("stroke", AXIS_COLOR);
      a.selectAll(".tick text").attr("fill", "#000").style("font-size", "16px")
        .style("font-family", "'Liberation Sans', Arial, sans-serif");
    });

    // panel title
    const cx = left + PLOT_W / 2;
    const lines = p.title;
    lines.forEach((t, i) => {
      g.append("text")
        .attr("x", cx)
        .attr("y", top - 9 - (lines.length - 1 - i) * 20)
        .attr("text-anchor", "middle")
        .style("font-size", "17px")
        .attr("fill", "#000")
        .text(t);
    });
  });
});

// shared axis labels
const allLeft = COL_LEFT, allRight = COL_LEFT + 7 * COL_STEP + PLOT_W;
fig.append("text")
  .attr("x", (allLeft + allRight) / 2)
  .attr("y", 1058)
  .attr("text-anchor", "middle")
  .style("font-size", "17px")
  .text("Noise strength of input");

fig.append("text")
  .attr("transform", `translate(23,533) rotate(-90)`)
  .attr("text-anchor", "middle")
  .style("font-size", "17px")
  .text("Partial correlation coefficient");
</script>
</body>
</html>
